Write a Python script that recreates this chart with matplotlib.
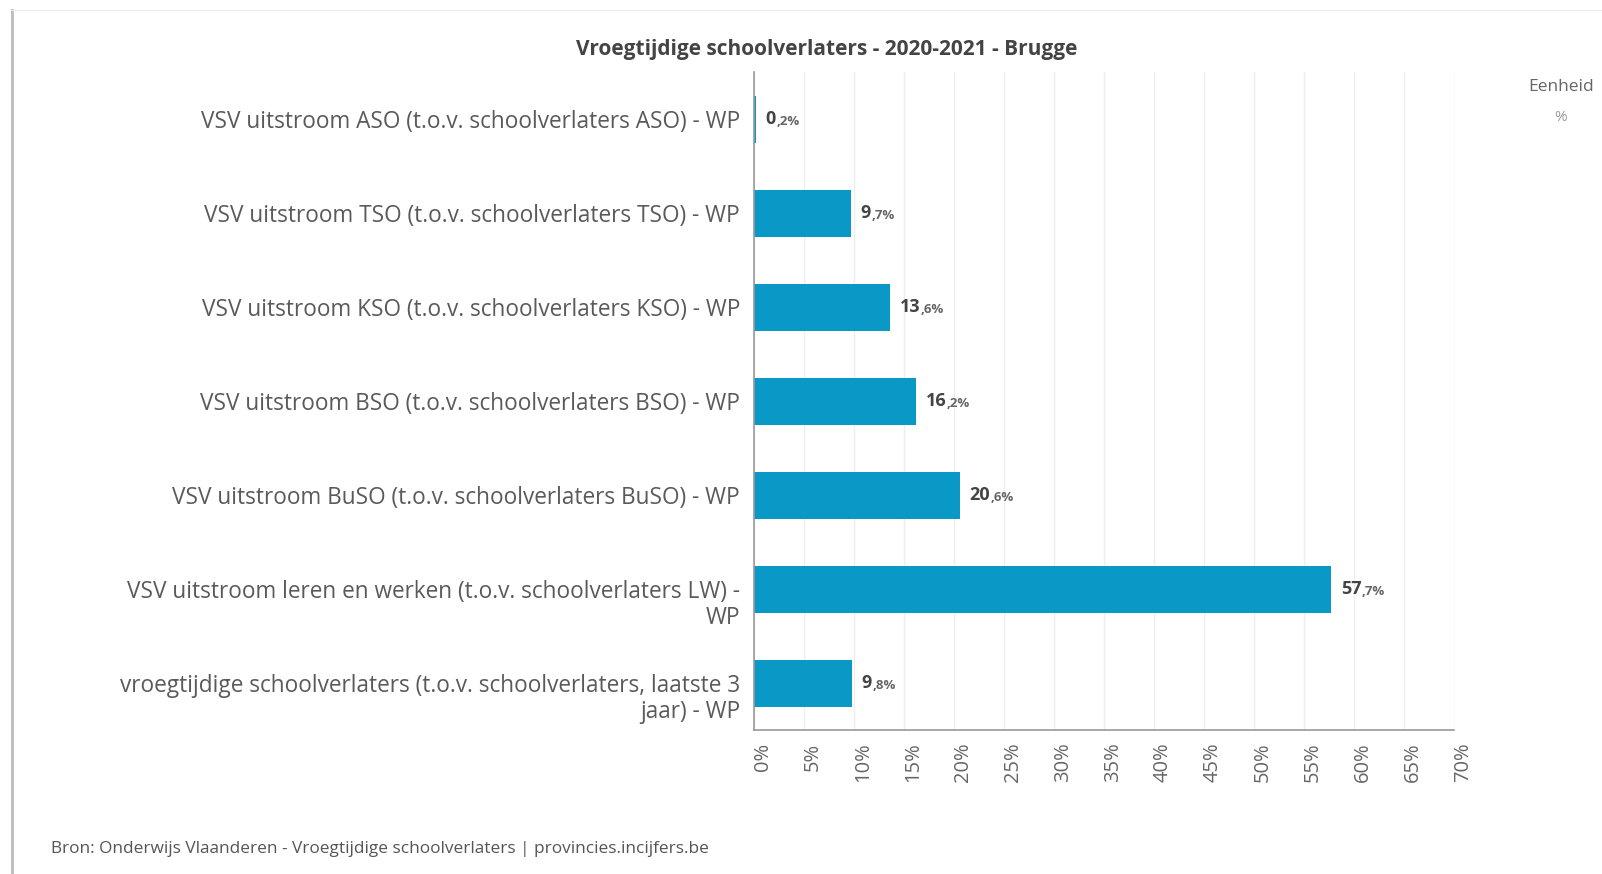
import matplotlib
matplotlib.use("Agg")
import matplotlib.pyplot as plt
from matplotlib.lines import Line2D
from matplotlib.transforms import ScaledTranslation

categories = [
    "VSV uitstroom ASO (t.o.v. schoolverlaters ASO) - WP",
    "VSV uitstroom TSO (t.o.v. schoolverlaters TSO) - WP",
    "VSV uitstroom KSO (t.o.v. schoolverlaters KSO) - WP",
    "VSV uitstroom BSO (t.o.v. schoolverlaters BSO) - WP",
    "VSV uitstroom BuSO (t.o.v. schoolverlaters BuSO) - WP",
    "VSV uitstroom leren en werken (t.o.v. schoolverlaters LW) -\nWP",
    "vroegtijdige schoolverlaters (t.o.v. schoolverlaters, laatste 3\njaar) - WP",
]
values = [0.2, 9.7, 13.6, 16.2, 20.6, 57.7, 9.8]
xticks = list(range(0, 71, 5))
xtick_labels = [f"{t}%" for t in xticks]

W, H = 1602, 874
fig = plt.figure(figsize=(W / 100, H / 100), dpi=100)
fig.patch.set_facecolor("white")

left, right = 754 / W, 1454 / W
top, bottom = 1 - 72 / H, 1 - 730 / H
ax = fig.add_axes([left, bottom, right - left, top - bottom])

font = "Open Sans"
bar_color = "#0a98c6"
ypos = list(range(len(categories)))
ax.barh(ypos, values, height=0.5, color=bar_color, zorder=3)
ax.set_ylim(len(categories) - 0.5, -0.5)
ax.set_xlim(0, 70)
ax.set_xticks(xticks)
ax.set_xticklabels(xtick_labels, rotation=90, fontsize=14.5, color="#666666", family=font)
ax.set_yticks(ypos)
ax.set_yticklabels(categories, fontsize=16.3, color="#5a5a5a", family=font, linespacing=1.1)
ax.tick_params(axis="both", length=0)
ax.tick_params(axis="y", pad=10)
ax.tick_params(axis="x", pad=9)
for lab in ax.get_yticklabels():
    if "\n" in lab.get_text():
        lab.set_transform(lab.get_transform() + ScaledTranslation(0, -0.125, fig.dpi_scale_trans))
for lab in ax.get_xticklabels():
    lab.set_transform(lab.get_transform() + ScaledTranslation(0.09, 0, fig.dpi_scale_trans))
ax.grid(axis="x", color="#eeeeee", linewidth=1, zorder=0)
for s in ["top", "right"]:
    ax.spines[s].set_visible(False)
for s in ["left", "bottom"]:
    ax.spines[s].set_color("#999999")
    ax.spines[s].set_linewidth(1.2)
ax.spines["left"].set_zorder(4)

for y, v in zip(ypos, values):
    whole, frac = f"{v:.1f}".split(".")
    t1 = ax.annotate(whole, xy=(v, y), xytext=(7, 0), textcoords="offset points",
                     ha="left", va="center", fontsize=13, fontweight="bold",
                     color="#444444", family=font)
    ax.annotate("," + frac + "%", xy=(1, 0.38), xycoords=t1, xytext=(0.3, 0),
                textcoords="offset points", ha="left", va="center",
                fontsize=9.5, fontweight="bold", color="#666666", family=font)

fig.text(827 / W, 1 - 50 / H, "Vroegtijdige schoolverlaters - 2020-2021 - Brugge",
         ha="center", va="center", fontsize=15, fontweight="bold", color="#444444", family=font)
fig.text(1561 / W, 1 - 87 / H, "Eenheid", ha="center", va="center", fontsize=12.5,
         color="#666666", family=font)
fig.text(1561 / W, 1 - 117 / H, "%", ha="center", va="center", fontsize=11,
         color="#999999", family=font)
fig.text(51 / W, 1 - 849 / H, "Bron: Onderwijs Vlaanderen - Vroegtijdige schoolverlaters | provincies.incijfers.be",
         ha="left", va="center", fontsize=12.4, color="#555555", family=font)

fig.add_artist(Line2D([12 / W, 12 / W], [0, 1 - 10 / H], transform=fig.transFigure,
                      color="#bbbbbb", linewidth=2))
fig.add_artist(Line2D([12 / W, 1], [1 - 10 / H, 1 - 10 / H], transform=fig.transFigure,
                      color="#eeeeee", linewidth=1))

fig.savefig("out.png", dpi=100, facecolor="white")
